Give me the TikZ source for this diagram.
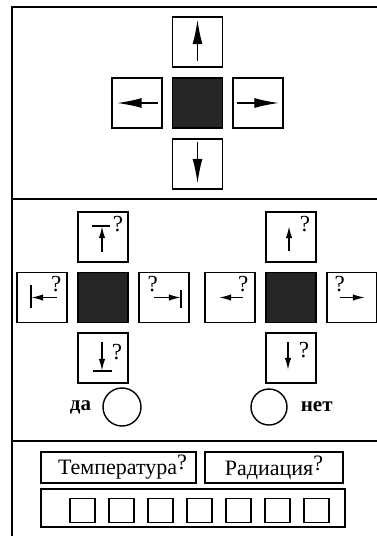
\documentclass[tikz,border=0pt]{standalone}
\usepackage{fontspec}
\setmainfont{Liberation Serif}
\usetikzlibrary{arrows.meta,positioning,calc}

\begin{document}
\begin{tikzpicture}[
  x=1pt, y=-1pt,
  node distance=9pt,
  cell/.style={draw, line width=1.8pt, minimum width=50pt, minimum height=50pt, inner sep=0pt},
  dark/.style={cell, fill=black!85},
  arrow/.style={-{Latex[length=25pt,width=10pt]}, line width=1.8pt},
  short/.style={-{Latex[length=12pt,width=6.5pt]}, line width=1.6pt},
  bar/.style={line width=1.8pt},
  ask/.style={inner sep=0pt, font=\fontsize{23}{23}\selectfont},
  word/.style={inner sep=0pt, font=\fontsize{21}{21}\selectfont\bfseries},
  frame/.style={draw, line width=1.6pt, inner sep=0pt, font=\fontsize{22}{22}\selectfont},
  tick/.style={draw, line width=1.6pt, minimum width=25pt, minimum height=24pt, inner sep=0pt}
]
\useasboundingbox (0,0) rectangle (376,536);
% outer frame and dividers
\draw[line width=2pt] (12,537) -- (12,7) -- (377,7);
\draw[line width=2pt] (12,199) -- (377,199);
\draw[line width=2pt] (12,441) -- (377,441);

% top cross
\node[dark] (mid) at (197.5,103) {};
\node[cell, above=of mid] (up) {};
\node[cell, below=of mid] (down) {};
\node[cell, left=of mid] (left) {};
\node[cell, right=of mid] (right) {};
\draw[arrow] ($(up)+(0,19)$) -- ($(up)+(0,-23)$);
\draw[arrow] ($(down)+(0,-22)$) -- ($(down)+(0,20)$);
\draw[arrow] ($(left)+(21,0)$) -- ($(left)+(-20,0)$);
\draw[arrow] ($(right)+(-21,0)$) -- ($(right)+(21,0)$);

% middle, left cross
\node[dark] (lmid) at (103,297.5) {};
\node[cell, above=of lmid] (lup) {};
\node[cell, below=of lmid] (ldown) {};
\node[cell, left=of lmid] (lleft) {};
\node[cell, right=of lmid] (lright) {};
\draw[bar] ($(lup)+(-11,-10.5)$) -- ($(lup)+(7,-10.5)$);
\draw[short] ($(lup)+(-1,15.5)$) -- ($(lup)+(-1,-10.5)$);
\node[ask] (lq1) at ($(lup)+(15,-12.5)$) {?};
\draw[bar] ($(lleft)+(-11,-12.5)$) -- ($(lleft)+(-11,10.5)$);
\draw[short] ($(lleft)+(15,0)$) -- ($(lleft)+(-11,0)$);
\node[ask] (lq2) at ($(lleft)+(14,-13)$) {?};
\draw[bar] ($(lright)+(17,-8)$) -- ($(lright)+(17,10)$);
\draw[short] ($(lright)+(-10,0)$) -- ($(lright)+(17,0)$);
\node[ask] (lq3) at ($(lright)+(-11,-13)$) {?};
\draw[bar] ($(ldown)+(-10,12.5)$) -- ($(ldown)+(9,12.5)$);
\draw[short] ($(ldown)+(-1,-16.5)$) -- ($(ldown)+(-1,12.5)$);
\node[ask] (lq4) at ($(ldown)+(14,-6.5)$) {?};
\node[draw, circle, line width=1.4pt, minimum size=38pt] (yes) at (122,407) {};
\node[word, left=11pt of yes] (yestext) {да};

% middle, right cross
\node[dark] (rmid) at (291,297.5) {};
\node[cell, above=of rmid] (rup) {};
\node[cell, below=of rmid] (rdown) {};
\node[cell, left=of rmid] (rleft) {};
\node[cell, right=of rmid] (rright) {};
\draw[short] ($(rup)+(-2,14.5)$) -- ($(rup)+(-2,-10.5)$);
\node[ask] (rq1) at ($(rup)+(14,-12.5)$) {?};
\draw[short] ($(rleft)+(13,0)$) -- ($(rleft)+(-11,0)$);
\node[ask] (rq2) at ($(rleft)+(13,-13)$) {?};
\draw[short] ($(rright)+(-12,0)$) -- ($(rright)+(13,0)$);
\node[ask] (rq3) at ($(rright)+(-12,-13)$) {?};
\draw[short] ($(rdown)+(-3,-16.5)$) -- ($(rdown)+(-3,11.5)$);
\node[ask] (rq4) at ($(rdown)+(13,-8.5)$) {?};
\node[draw, circle, line width=1.4pt, minimum size=36pt] (no) at (269,407) {};
\node[word, right=13pt of no] (notext) {нет};

% bottom
\node[frame, minimum width=155pt, minimum height=31pt] (temp) at (118.5,467.5) {\hspace{8pt}Температура\raisebox{5pt}{?}};
\node[frame, minimum width=138pt, minimum height=31pt] (rad) at (274,467.5) {Радиация\raisebox{5pt}{?}};
\node[frame, minimum width=304pt, minimum height=38pt] (row) at (193,508) {};
\foreach \i in {0,...,6}
  \node[tick] (sq\i) at (82.5+39*\i,510.5) {};
\end{tikzpicture}
\end{document}
